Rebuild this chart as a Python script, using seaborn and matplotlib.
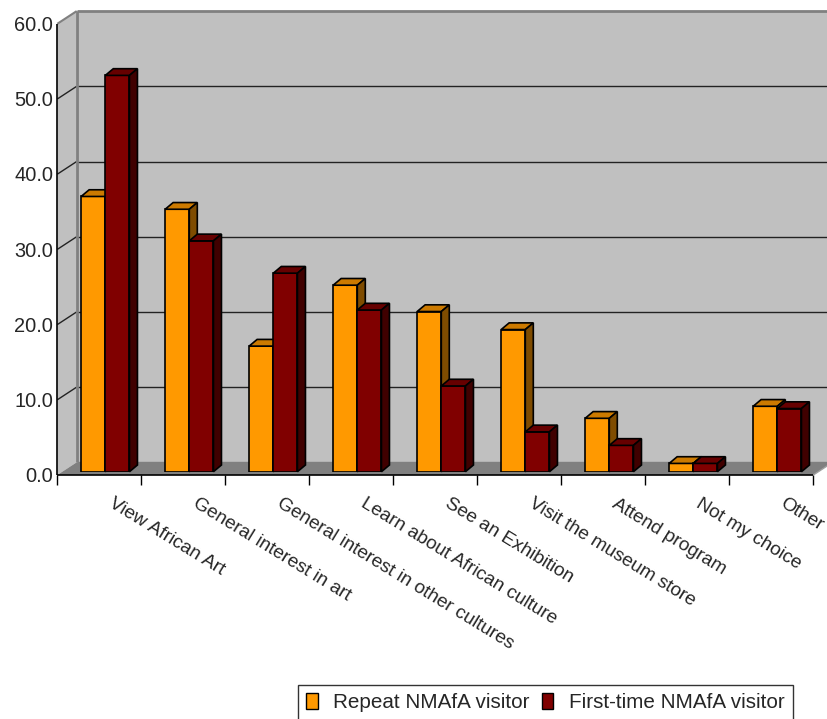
import numpy as np
import pandas as pd
import matplotlib
matplotlib.use("Agg")
import matplotlib.pyplot as plt
from matplotlib.patches import Polygon, Patch
from matplotlib.lines import Line2D
from matplotlib.transforms import ScaledTranslation
import seaborn as sns

# Reasons for visiting, share of respondents (%)
reasons = [
    "View African Art",
    "General interest in art",
    "General interest in other cultures",
    "Learn about African culture",
    "See an Exhibition",
    "Visit the museum store",
    "Attend program",
    "Not my choice",
    "Other",
]
repeat_visitor = [36.6, 34.9, 16.7, 24.8, 21.3, 18.9, 7.1, 1.1, 8.7]
first_time_visitor = [52.7, 30.7, 26.4, 21.5, 11.4, 5.3, 3.5, 1.1, 8.4]
series_names = ["Repeat NMAfA visitor", "First-time NMAfA visitor"]
y_ticks = [0, 10, 20, 30, 40, 50, 60]

front_colors = ["#FF9900", "#800000"]
top_colors = ["#CC7A00", "#660000"]
side_colors = ["#7F4C00", "#400000"]

df = pd.DataFrame({
    "reason": reasons * 2,
    "share": repeat_visitor + first_time_visitor,
    "visitor": [series_names[0]] * len(reasons) + [series_names[1]] * len(reasons),
})

sns.set_style("white")
plt.rcParams["font.family"] = ["Liberation Sans", "DejaVu Sans"]

W, H = 827, 719
fig = plt.figure(figsize=(W / 100, H / 100), dpi=100)
# axes span the plane of the bars' front faces
ax = fig.add_axes([63.3 / W, 247.3 / H, 756 / W, 451.2 / H])
ax.patch.set_visible(False)

sns.barplot(data=df, x="reason", y="share", hue="visitor", hue_order=series_names,
            order=reasons, palette=front_colors, saturation=1, width=0.575,
            edgecolor="black", linewidth=1.2, legend=False, ax=ax)
ax.set_xlim(-0.5, 8.5)
ax.set_ylim(0, 60)

# pixel -> data conversion for the oblique depth offsets
PX = 1 / 84.0
PY = 1 / 7.52
FRONT = (-6 * PX, -3.3 * PY)
BACK = (13.4 * PX, 9.4 * PY)
DEPTH = (8 * PX, 6.7 * PY)


def at(x, y, off):
    return (x + off[0], y + off[1])


def poly(pts, fc, z, ec="none", lw=0):
    ax.add_patch(Polygon(pts, closed=True, facecolor=fc, edgecolor=ec,
                         linewidth=lw, zorder=z, clip_on=False))


def seg(p, q, color, lw, z=0.6):
    ax.add_line(Line2D([p[0], q[0]], [p[1], q[1]], color=color, lw=lw,
                       zorder=z, clip_on=False, solid_capstyle="butt"))


x0, x1 = -0.5, 8.5
# walls and floor
poly([at(x0, 0, BACK), at(x1, 0, BACK), at(x1, 60, BACK), at(x0, 60, BACK)], "#C0C0C0", 0.1)
poly([at(x0, 0, FRONT), at(x0, 60, FRONT), at(x0, 60, BACK), at(x0, 0, BACK)], "#C0C0C0", 0.2)
poly([at(x0, 0, FRONT), at(x1, 0, FRONT), at(x1, 0, BACK), at(x0, 0, BACK)], "#808080", 0.3)

for v in y_ticks[1:-1]:
    seg(at(x0, v, BACK), at(x1, v, BACK), "#222222", 1.0)
    seg(at(x0, v, FRONT), at(x0, v, BACK), "#222222", 1.0)
seg(at(x0, 60, BACK), at(x1, 60, BACK), "#808080", 2.0)
seg(at(x0, 60, FRONT), at(x0, 60, BACK), "#808080", 1.5)
seg(at(x0, 0, BACK), at(x0, 60, BACK), "#808080", 2.0)
seg(at(x0, 0, BACK), at(x1, 0, BACK), "#808080", 1.0)
seg(at(x1, 0, FRONT), at(x1, 0, BACK), "#A0A0A0", 1.0)
seg(at(x0, 0, FRONT), at(x0, 60, FRONT), "black", 1.2, 5)
seg(at(x0, 0, FRONT), at(x1, 0, FRONT), "black", 1.2, 5)

# category separator ticks below the floor edge
for k in range(len(reasons) + 1):
    xb = x0 + k
    seg(at(xb, 0, FRONT), at(xb, -10 * PY, FRONT), "black", 1.0, 5)

# top and side faces of each bar
for s, cont in enumerate(ax.containers):
    z = 2 + s
    for bar in cont.patches:
        bx, bw, bh = bar.get_x(), bar.get_width(), bar.get_height()
        bar.set_zorder(z)
        dx, dy = DEPTH
        poly([(bx, bh), (bx + bw, bh), (bx + bw + dx, bh + dy), (bx + dx, bh + dy)],
             top_colors[s], z, ec="black", lw=1.2)
        poly([(bx + bw, 0), (bx + bw + dx, dy), (bx + bw + dx, bh + dy), (bx + bw, bh)],
             side_colors[s], z, ec="black", lw=1.2)

sns.despine(ax=ax, left=True, bottom=True)
ax.set_xlabel("")
ax.set_ylabel("")
ax.set_yticks(y_ticks)
ax.set_yticklabels([f"{v:.1f}" for v in y_ticks], fontsize=14.4)
ax.tick_params(axis="y", length=0, pad=7.2)
ax.set_xticks(range(len(reasons)))
ax.set_xticklabels(reasons, fontsize=13.7)
ax.tick_params(axis="x", length=0, pad=17)

# value labels sit on the front plane, slightly below the bar plane
y_shift = ScaledTranslation(0, -3.0 / 100, fig.dpi_scale_trans)
for lab in ax.get_yticklabels():
    lab.set_transform(lab.get_transform() + y_shift)
x_shift = ScaledTranslation(9 / 100, 0, fig.dpi_scale_trans)
for lab in ax.get_xticklabels():
    lab.set_rotation(-31.5)
    lab.set_ha("left")
    lab.set_va("top")
    lab.set_rotation_mode("anchor")
    lab.set_transform(lab.get_transform() + x_shift)

handles = [Patch(facecolor=c, edgecolor="black", linewidth=1.0) for c in front_colors]
leg = fig.legend(handles, series_names, loc="upper left",
                 bbox_to_anchor=(298 / W, 1 - 685 / H), ncol=2, frameon=True,
                 fancybox=False, edgecolor="black", fontsize=14.9,
                 handlelength=0.55, handleheight=0.8, handletextpad=0.75,
                 columnspacing=0.6, borderpad=0.4, borderaxespad=0)
leg.get_frame().set_linewidth(1.0)

fig.savefig("out.png", dpi=100)
